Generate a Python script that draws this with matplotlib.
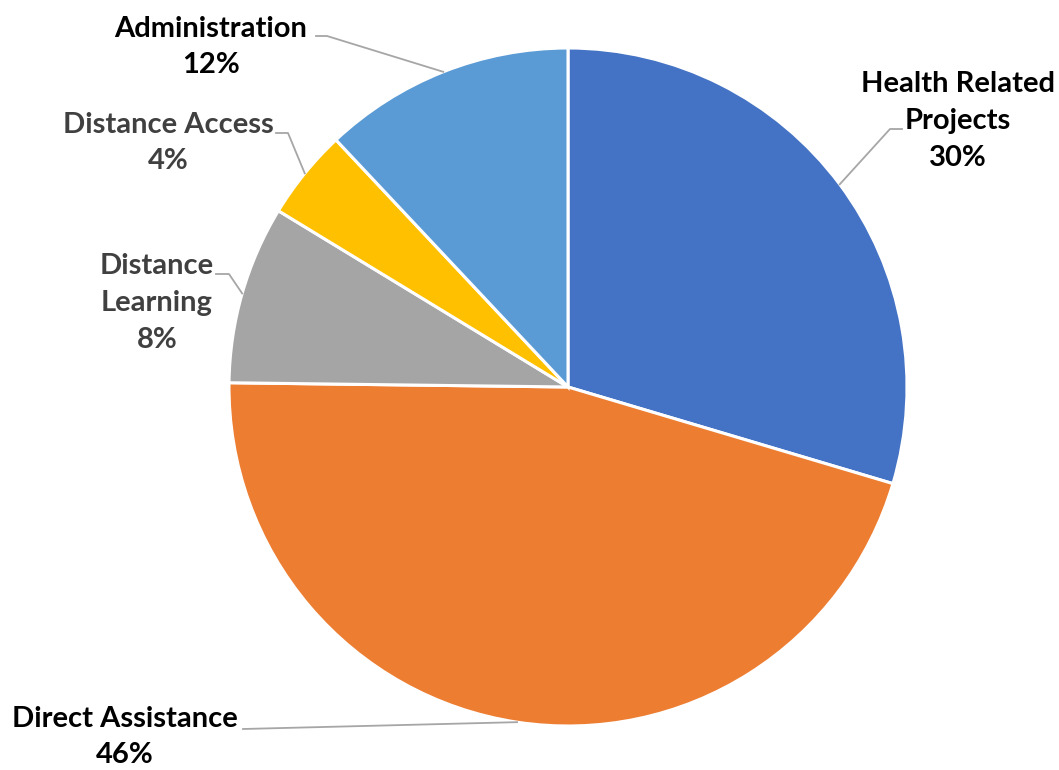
import matplotlib.pyplot as plt
import numpy as np

W, H = 1059, 770

labels = ["Health Related\nProjects", "Direct Assistance", "Distance\nLearning",
          "Distance Access", "Administration"]
values = [29.6, 45.6, 8.5, 4.3, 12.0]
colors = ["#4472C4", "#ED7D31", "#A5A5A5", "#FFC000", "#5B9BD5"]
text_colors = ["#000000", "#000000", "#404040", "#404040", "#000000"]

# layout (image pixel coords, y down): label centre, leader elbow, leader tail
label_pos = [(958, 121), (125, 737), (157, 303), (168, 143), (211, 47)]
elbows = [(890, 129), (243, 729), (229, 274), (288, 133), (327, 36)]
tails = [(902, 129), (243, 729), (216, 274), (276, 133), (316, 36)]

CX, CY, R = 568, 387, 339


def fy(y):
    return H - y


fig = plt.figure(figsize=(W / 100, H / 100), dpi=100)
ax = fig.add_axes([0, 0, 1, 1])
ax.set_xlim(0, W)
ax.set_ylim(0, H)
ax.set_aspect('equal')
ax.axis('off')

wedges, _ = ax.pie(values, colors=colors, startangle=90, counterclock=False,
                   center=(CX, fy(CY)), radius=R,
                   wedgeprops=dict(edgecolor='white', linewidth=2.2))
ax.set_xlim(0, W)
ax.set_ylim(0, H)

for i, w in enumerate(wedges):
    mid = np.deg2rad((w.theta1 + w.theta2) / 2)
    ex = CX + R * np.cos(mid)
    ey = fy(CY) + R * np.sin(mid)
    xs = [ex, elbows[i][0], tails[i][0]]
    ys = [ey, fy(elbows[i][1]), fy(tails[i][1])]
    ax.plot(xs, ys, color="#A6A6A6", lw=1.3, zorder=3)
    txt = "{}\n{}%".format(labels[i], int(round(values[i])))
    ax.text(label_pos[i][0], fy(label_pos[i][1]), txt, ha='center', va='center',
            fontsize=21, fontweight='bold', family='Lato', color=text_colors[i],
            linespacing=1.5)

fig.savefig("out.png", dpi=100)
